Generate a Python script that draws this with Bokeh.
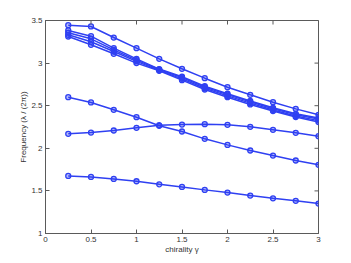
import math
from bokeh.plotting import figure
from bokeh.models import FixedTicker, Range1d
from bokeh.embed import file_html
from bokeh.resources import INLINE

gamma = [0.25, 0.5, 0.75, 1.0, 1.25, 1.5, 1.75, 2.0, 2.25, 2.5, 2.75, 3.0]

band_a = [3.445, 3.43, 3.30, 3.175, 3.05, 2.933, 2.823, 2.717, 2.628, 2.541, 2.463, 2.393]
band_b = [3.383, 3.316, 3.175, 3.05, 2.93, 2.84, 2.73, 2.64, 2.555, 2.475, 2.405, 2.355]
band_c = [3.356, 3.285, 3.156, 3.035, 2.925, 2.83, 2.72, 2.63, 2.545, 2.465, 2.395, 2.345]
band_d = [3.332, 3.25, 3.136, 3.02, 2.915, 2.815, 2.705, 2.615, 2.53, 2.45, 2.38, 2.325]
band_e = [3.312, 3.215, 3.109, 3.00, 2.91, 2.80, 2.69, 2.60, 2.515, 2.438, 2.367, 2.308]
band_f = [2.60, 2.538, 2.452, 2.365, 2.264, 2.197, 2.111, 2.04, 1.974, 1.915, 1.857, 1.806]
band_g = [2.170, 2.185, 2.209, 2.24, 2.271, 2.279, 2.283, 2.276, 2.252, 2.217, 2.182, 2.142]
band_h = [1.676, 1.664, 1.641, 1.613, 1.577, 1.547, 1.512, 1.48, 1.445, 1.413, 1.383, 1.351]

bands = [band_a, band_b, band_c, band_d, band_e, band_f, band_g, band_h]

x_ticks = [0, 0.5, 1, 1.5, 2, 2.5, 3]
x_tick_labels = ["0", "0.5", "1", "1.5", "2", "2.5", "3"]
y_ticks = [1, 1.5, 2, 2.5, 3, 3.5]
y_tick_labels = ["1", "1.5", "2", "2.5", "3", "3.5"]

x_label = "chirality γ"
y_label = "Frequency (λ / (2π))"

COLOR = "#2f40f2"
AXC = "#5a5a5a"
FONT = "Liberation Sans"

x_min, x_max = 0, 3
y_min, y_max = 1, 3.5

p = figure(width=343, height=258, output_backend="svg", toolbar_location=None,
           x_range=Range1d(x_min, x_max), y_range=Range1d(y_min, y_max),
           min_border_left=45, min_border_right=25, min_border_top=20, min_border_bottom=25)
p.grid.visible = False
p.outline_line_color = AXC
p.outline_line_width = 1
p.background_fill_color = "white"
p.border_fill_color = "white"

for band in bands:
    p.line(gamma, band, line_color=COLOR, line_width=1.5)
    p.scatter(gamma, band, marker="circle", size=5, line_color=COLOR,
              fill_color=COLOR, fill_alpha=0.35, line_width=1.3)

# inward tick marks on the top and right edges (box on), clipped by the frame
p.scatter(x_ticks, [y_max] * len(x_ticks), marker="dash", angle=math.pi / 2,
          size=8, line_color=AXC, line_width=1)
p.scatter([x_max] * len(y_ticks), y_ticks, marker="dash",
          size=8, line_color=AXC, line_width=1)

def style_axis(ax, ticks, labels):
    ax.ticker = FixedTicker(ticks=ticks)
    ax.major_label_overrides = {t: l for t, l in zip(ticks, labels)}
    ax.major_tick_in = 4
    ax.major_tick_out = 0
    ax.minor_tick_in = 0
    ax.minor_tick_out = 0
    ax.axis_line_color = AXC
    ax.major_tick_line_color = AXC
    ax.major_label_text_font = FONT
    ax.major_label_text_font_size = "8px"
    ax.major_label_text_color = "#333333"
    ax.major_label_standoff = 3
    ax.axis_label_text_font = FONT
    ax.axis_label_text_font_size = "8px"
    ax.axis_label_text_font_style = "normal"
    ax.axis_label_text_color = "#333333"

xa = p.xaxis[0]
style_axis(xa, x_ticks, x_tick_labels)
xa.axis_label = x_label
xa.axis_label_standoff = 0

ya = p.yaxis[0]
style_axis(ya, y_ticks, y_tick_labels)
ya.axis_label = y_label
ya.axis_label_standoff = 0

open("out.html", "w").write(file_html(p, INLINE))
